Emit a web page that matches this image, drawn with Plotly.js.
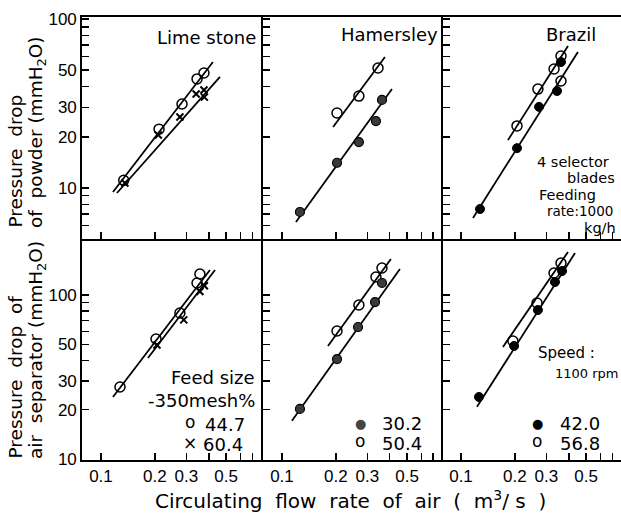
<!DOCTYPE html>
<html><head><meta charset="utf-8">
<script src="https://cdn.plot.ly/plotly-3.0.1.min.js"></script>
<style>html,body{margin:0;padding:0;background:#fff;}</style>
</head><body><div id="chart" style="width:621px;height:513px;"></div>
<script>
// ---------- DATA ----------
const panelNames = ["Lime stone", "Hamersley", "Brazil"];
const xTickVals = [0.1, 0.2, 0.3, 0.4, 0.5, 0.6, 0.7, 0.8];
const xTickText = ["0.1", "0.2", "0.3", "", "0.5", "", "", ""];
const yTopTickVals = [6, 7, 8, 9, 10, 20, 30, 40, 50, 60, 70, 80, 90, 100];
const yTopTickText = ["", "", "", "", "10", "20", "30", "", "50", "", "", "", "", "100"];
const yBotTickVals = [10, 20, 30, 40, 50, 60, 70, 80, 90, 100];
const yBotTickText = ["10", "20", "30", "", "50", "", "", "", "", "100"];

// Top row: pressure drop of powder (mmH2O)
const limePowX_447 = [0.134, 0.211, 0.2835, 0.344, 0.376];
const limePowY_447 = [11.1, 22.3, 31.4, 44.2, 47.9];
const limePowX_604 = [0.136, 0.209, 0.276, 0.340, 0.376, 0.378];
const limePowY_604 = [10.7, 20.6, 26.3, 36.0, 38.0, 34.5];
const limePowFitX_447 = [0.1167, 0.422], limePowFitY_447 = [9.47, 55.7];
const limePowFitX_604 = [0.1228, 0.462], limePowFitY_604 = [9.34, 45.4];

const hamPowX_504 = [0.203, 0.269, 0.344];
const hamPowY_504 = [27.8, 35.0, 51.3];
const hamPowX_302 = [0.126, 0.203, 0.269, 0.335, 0.362];
const hamPowY_302 = [7.21, 14.1, 18.7, 24.9, 33.2];
const hamPowFitX_504 = [0.193, 0.376], hamPowFitY_504 = [22.96, 59.6];
const hamPowFitX_302 = [0.1197, 0.4116], hamPowFitY_302 = [6.29, 38.5];

const braPowX_568 = [0.2055, 0.269, 0.331, 0.362, 0.362];
const braPowY_568 = [23.3, 38.5, 50.6, 60.4, 43.0];
const braPowX_420 = [0.1277, 0.2055, 0.273, 0.344, 0.362];
const braPowY_420 = [7.51, 17.2, 30.2, 37.5, 55.7];
const braPowFitX_568 = [0.183, 0.396], braPowFitY_568 = [19.2, 69.2];
const braPowFitX_420 = [0.1167, 0.450], braPowFitY_420 = [6.65, 63.8];

// Bottom row: pressure drop of air separator (mmH2O)
const limeSepX_447 = [0.1277, 0.203, 0.276, 0.344, 0.357];
const limeSepY_447 = [27.5, 53.9, 77.7, 118.4, 134.3];
const limeSepX_604 = [0.2055, 0.29, 0.357, 0.378];
const limeSepY_604 = [49.6, 70.5, 105, 114];
const limeSepFitX_447 = [0.1167, 0.406], limeSepFitY_447 = [23.9, 142];
const limeSepFitX_604 = [0.183, 0.4335], limeSepFitY_604 = [41.3, 142];

const hamSepX_504 = [0.203, 0.269, 0.335, 0.362];
const hamSepY_504 = [60.3, 86.9, 128.8, 146.1];
const hamSepX_302 = [0.126, 0.203, 0.266, 0.331, 0.362];
const hamSepY_302 = [20.2, 40.7, 63.8, 90.6, 118.4];
const hamSepFitX_504 = [0.1807, 0.406], hamSepFitY_504 = [48.9, 165.8];
const hamSepFitX_302 = [0.1137, 0.456], hamSepFitY_302 = [17.1, 144];

const braSepX_420 = [0.126, 0.198, 0.269, 0.335, 0.367];
const braSepY_420 = [23.9, 48.9, 81.0, 120.0, 140];
const braSepX_568 = [0.195, 0.266, 0.331, 0.362];
const braSepY_568 = [52.4, 89.4, 136.2, 156.7];
const braSepFitX_420 = [0.1228, 0.4335], braSepFitY_420 = [20.8, 180.3];
const braSepFitX_568 = [0.1716, 0.396], braSepFitY_568 = [48.2, 182.9];

// ---------- STYLE ----------
const W = 621, H = 513, ML = 82, MR = 0, MT = 17, MB = 53;
const PW = W - ML - MR, PH = H - MT - MB;
const F = "DejaVu Sans, sans-serif";
const TF = "Liberation Sans Narrow, Liberation Sans, sans-serif";
const px = x => (x - ML) / PW;
const py = y => (H - MB - y) / PH;

const openC = {symbol: "circle-open", size: 10, color: "#000", line: {width: 1.5, color: "#000"}};
const cross = {symbol: "x-thin-open", size: 7, color: "#000", line: {width: 2, color: "#000"}};
const halfC = {symbol: "circle", size: 9, color: "#3a3a3a", line: {width: 1.2, color: "#000"}};
const fillC = {symbol: "circle", size: 9, color: "#000", line: {width: 1, color: "#000"}};
const fitLine = {color: "#000", width: 1.8};

function pts(x, y, m, ax) { return {type: "scatter", mode: "markers", x: x, y: y, marker: m, xaxis: ax[0], yaxis: ax[1], showlegend: false, hoverinfo: "skip"}; }
function fit(x, y, ax) { return {type: "scatter", mode: "lines", x: x, y: y, line: fitLine, xaxis: ax[0], yaxis: ax[1], showlegend: false, hoverinfo: "skip"}; }

const A = [["x", "y"], ["x2", "y2"], ["x3", "y3"], ["x4", "y4"], ["x5", "y5"], ["x6", "y6"]];
const traces = [
  fit(limePowFitX_447, limePowFitY_447, A[0]), fit(limePowFitX_604, limePowFitY_604, A[0]),
  pts(limePowX_447, limePowY_447, openC, A[0]), pts(limePowX_604, limePowY_604, cross, A[0]),
  fit(hamPowFitX_504, hamPowFitY_504, A[1]), fit(hamPowFitX_302, hamPowFitY_302, A[1]),
  pts(hamPowX_504, hamPowY_504, openC, A[1]), pts(hamPowX_302, hamPowY_302, halfC, A[1]),
  fit(braPowFitX_568, braPowFitY_568, A[2]), fit(braPowFitX_420, braPowFitY_420, A[2]),
  pts(braPowX_568, braPowY_568, openC, A[2]), pts(braPowX_420, braPowY_420, fillC, A[2]),
  fit(limeSepFitX_447, limeSepFitY_447, A[3]), fit(limeSepFitX_604, limeSepFitY_604, A[3]),
  pts(limeSepX_447, limeSepY_447, openC, A[3]), pts(limeSepX_604, limeSepY_604, cross, A[3]),
  fit(hamSepFitX_504, hamSepFitY_504, A[4]), fit(hamSepFitX_302, hamSepFitY_302, A[4]),
  pts(hamSepX_504, hamSepY_504, openC, A[4]), pts(hamSepX_302, hamSepY_302, halfC, A[4]),
  fit(braSepFitX_568, braSepFitY_568, A[5]), fit(braSepFitX_420, braSepFitY_420, A[5]),
  pts(braSepX_568, braSepY_568, openC, A[5]), pts(braSepX_420, braSepY_420, fillC, A[5])
];

const xDom = [[0, 181 / PW], [181 / PW, 361 / PW], [361 / PW, 1]];
const xRng = [[-1.106, -0.095], [-1.106, -0.1004], [-1.1006, -0.106]];
const yDomTop = [221 / PH, 1], yDomBot = [0, 221 / PH];
const yRngTop = [0.698, 2.012], yRngBot = [0.994, 2.3415];

function xax(i, anchor, bottomRow) {
  return {type: "log", domain: xDom[i], range: xRng[i], anchor: anchor,
    tickmode: "array", tickvals: xTickVals, ticktext: xTickText, showticklabels: bottomRow,
    ticks: "inside", ticklen: 7, tickwidth: 1.5, tickcolor: "#000",
    showline: true, linewidth: 1.8, linecolor: "#000", mirror: !bottomRow,
    showgrid: false, zeroline: false, tickfont: {family: TF, size: 17, color: "#000"}};
}
function yax(i, top, anchor) {
  return {type: "log", domain: top ? yDomTop : yDomBot, range: top ? yRngTop : yRngBot, anchor: anchor,
    tickmode: "array", tickvals: top ? yTopTickVals : yBotTickVals, ticktext: top ? yTopTickText : yBotTickText,
    showticklabels: i === 0,
    ticks: "inside", ticklen: 7, tickwidth: 1.5, tickcolor: "#000",
    showline: true, linewidth: 1.8, linecolor: "#000", mirror: false,
    showgrid: false, zeroline: false, tickfont: {family: TF, size: 17, color: "#000"}};
}

function ann(text, x, y, xa, size, extra) {
  return Object.assign({text: text, xref: "paper", yref: "paper", x: px(x), y: py(y), xanchor: xa, yanchor: "middle",
    showarrow: false, font: {family: F, size: size, color: "#000"}}, extra || {});
}
function vann(text, xc, ybottom) {
  return {text: text, xref: "paper", yref: "paper", x: px(xc), y: py(ybottom), xanchor: "center", yanchor: "bottom",
    textangle: -90, showarrow: false, font: {family: F, size: 18.5, color: "#000"}};
}

const annotations = [
  ann(panelNames[0], 258, 37, "right", 18),
  ann(panelNames[1], 440, 35, "right", 18),
  ann(panelNames[2], 598, 35, "right", 18),
  ann("4 selector", 535, 162, "left", 14.5),
  ann("blades", 617, 178, "right", 14.5),
  ann("Feeding", 537, 195, "left", 14.5),
  ann("rate:1000", 545, 211, "left", 13.5),
  ann("kg/h", 618, 228, "right", 14.5),
  ann("Feed size", 257, 377, "right", 18),
  ann("-350mesh%", 257, 400, "right", 18),
  ann("o", 190, 422, "center", 17),
  ann("44.7", 203, 424, "left", 18),
  ann("×", 190, 443, "center", 17),
  ann("60.4", 201, 444, "left", 18),
  ann("●", 360, 423, "center", 13, {font: {family: F, size: 13, color: "#444"}}),
  ann("30.2", 380, 423, "left", 18),
  ann("o", 360, 441, "center", 17),
  ann("50.4", 380, 443, "left", 18),
  ann("Speed :", 536, 353, "left", 15),
  ann("1100 rpm", 620, 373, "right", 13),
  ann("●", 537, 423, "center", 13),
  ann("42.0", 558, 423, "left", 18),
  ann("o", 537, 441, "center", 17),
  ann("56.8", 558, 443, "left", 18),
  ann("Circulating  flow  rate  of  air  (  m<sup>3</sup>/ s  )", 350, 500, "center", 20),
  vann("Pressure  drop", 15, 230),
  vann("of  powder (mmH<sub>2</sub>O)", 37, 230),
  vann("Pressure  drop  of", 15, 461),
  vann("air  separator (mmH<sub>2</sub>O)", 37, 461)
];

const layout = {
  width: W, height: H, margin: {l: ML, r: MR, t: MT, b: MB},
  paper_bgcolor: "#fff", plot_bgcolor: "#fff", showlegend: false,
  font: {family: F, color: "#000"},
  xaxis: xax(0, "y", false), xaxis2: xax(1, "y2", false), xaxis3: xax(2, "y3", false),
  xaxis4: xax(0, "y4", true), xaxis5: xax(1, "y5", true), xaxis6: xax(2, "y6", true),
  yaxis: yax(0, true, "x"), yaxis2: yax(1, true, "x2"), yaxis3: yax(2, true, "x3"),
  yaxis4: yax(0, false, "x4"), yaxis5: yax(1, false, "x5"), yaxis6: yax(2, false, "x6"),
  annotations: annotations
};

Plotly.newPlot("chart", traces, layout, {displayModeBar: false, staticPlot: true});
</script></body></html>
